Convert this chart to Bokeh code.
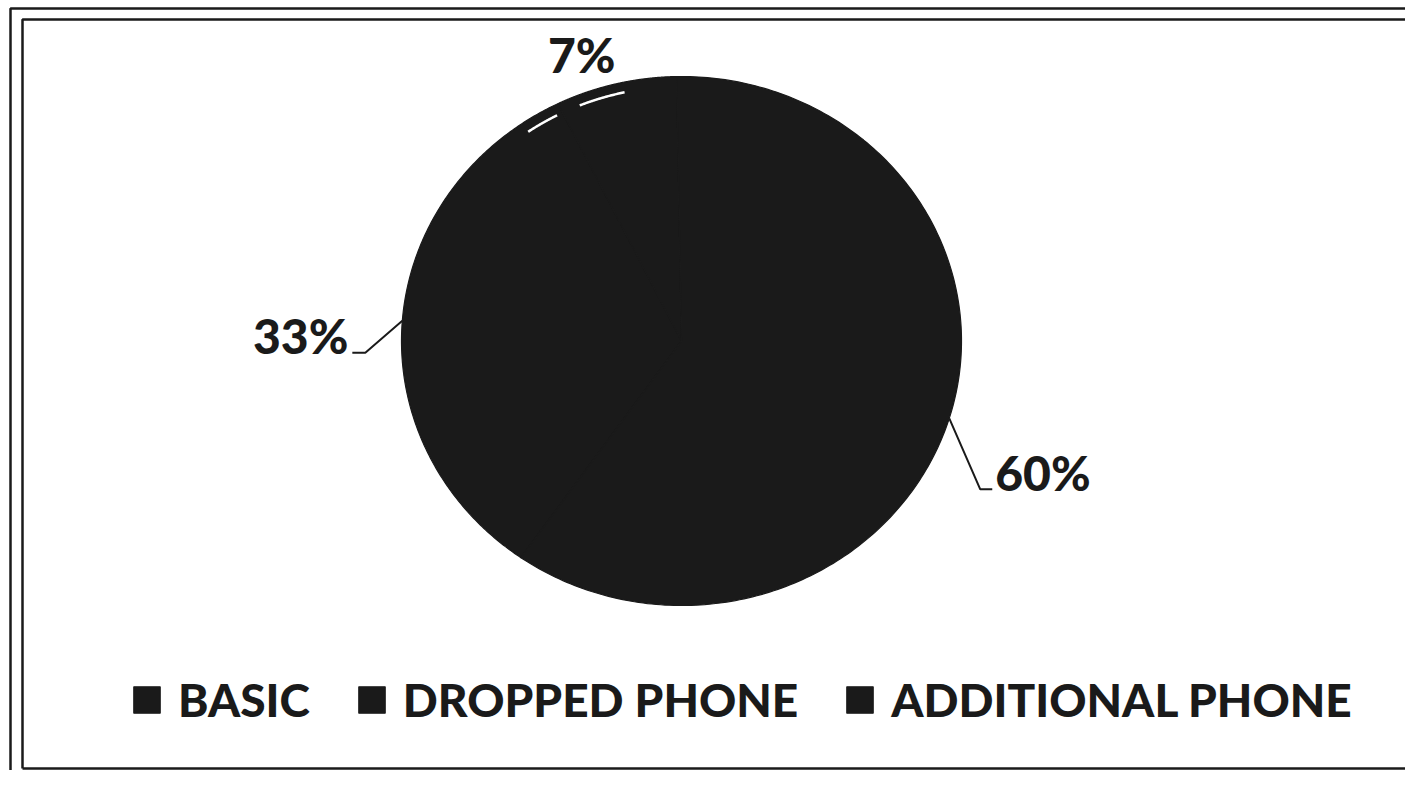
import numpy as np
from bokeh.plotting import figure
from bokeh.models import ColumnDataSource, Range1d, Legend, LegendItem
from bokeh.core.properties import value
from bokeh.embed import file_html
from bokeh.resources import INLINE

# ---------------- data ----------------
categories = ["BASIC", "DROPPED PHONE", "ADDITIONAL PHONE"]
shares = [33, 7, 60]
pct_labels = ["33%", "7%", "60%"]

# ---------------- layout / style ----------------
W, H = 1405, 770
CX, CY = 681, 340.5
RX, RY = 280, 264.5
FIRST_ANGLE = 215.0          # degrees, clockwise from 12 o'clock
PIE_COLOR = "#1a1a1a"
INK = "#1a1a1a"
FONT = "Lato Black"
LABEL_SIZE = "48px"
LEGEND_SIZE = "46px"

# label placement relative to each slice's rim point (pixels, y down)
label_text_offset = [(-54, 15), (-34, -29), (46, 54)]
label_align = ["right", "center", "left"]
leader_offsets = [[(0, 0), (-37, 32), (-50, 32)], None, [(0, 0), (31, 71), (43, 71)]]

p = figure(width=W, height=H, output_backend="svg", toolbar_location=None,
           x_range=Range1d(0, W), y_range=Range1d(H, 0),
           x_axis_type=None, y_axis_type=None, min_border=0,
           outline_line_color=None, background_fill_color="white",
           border_fill_color="white")
p.grid.visible = False

# frame rules (double border, open to the right)
p.multi_line([[10, 10, W + 50], [22, 22, W + 50], [22, W + 50]],
             [[H + 50, 8, 8], [768, 19, 19], [768, 768]],
             line_color=INK, line_width=2.5)

# ---------------- pie slices ----------------
total = float(sum(shares))
xs_list, ys_list, mids, bounds = [], [], [], []
a = FIRST_ANGLE
for s in shares:
    span = 360.0 * s / total
    th = np.radians(np.linspace(a, a + span, 240))
    xs_list.append(np.concatenate([[CX], CX + RX * np.sin(th)]).tolist())
    ys_list.append(np.concatenate([[CY], CY - RY * np.cos(th)]).tolist())
    mids.append(a + span / 2)
    bounds.append((a, a + span))
    a += span

src = ColumnDataSource(dict(xs=xs_list, ys=ys_list, cat=categories,
                            color=[PIE_COLOR] * len(categories)))
pie = p.patches("xs", "ys", source=src, fill_color="color",
                line_color="color", line_width=1.2)

# faint white sheen near the rim around the BASIC / DROPPED boundary
b = bounds[0][1]
sheen = []
for a0, a1 in [(b - 8.5, b - 1.3), (b + 4.0, b + 14.0)]:
    th = np.radians(np.linspace(a0, a1, 40))
    sheen.append((CX + 0.962 * RX * np.sin(th), CY - 0.962 * RY * np.cos(th)))
p.multi_line([s[0].tolist() for s in sheen], [s[1].tolist() for s in sheen],
             line_color="white", line_width=2.5)

# ---------------- data labels ----------------
for i, m in enumerate(mids):
    t = np.radians(m)
    rx0 = CX + RX * np.sin(t)
    ry0 = CY - RY * np.cos(t)
    if leader_offsets[i] is not None:
        p.line([rx0 + d[0] for d in leader_offsets[i]],
               [ry0 + d[1] for d in leader_offsets[i]],
               line_color=INK, line_width=2)
    p.text(x=[rx0 + label_text_offset[i][0]], y=[ry0 + label_text_offset[i][1]],
           text=[pct_labels[i]], text_align=label_align[i],
           text_baseline="alphabetic", text_color=INK,
           text_font=value(FONT), text_font_size=LABEL_SIZE,
           text_font_style="normal")

# ---------------- legend ----------------
items = [LegendItem(label=c, renderers=[pie], index=i) for i, c in enumerate(categories)]
legend = Legend(items=items, orientation="horizontal", location=(130, 43),
                glyph_width=33, glyph_height=33, label_standoff=15, spacing=45,
                padding=0, margin=0, border_line_color=None,
                background_fill_alpha=0,
                label_text_font=FONT, label_text_font_size=LEGEND_SIZE,
                label_text_font_style="normal", label_text_color=INK)
p.add_layout(legend)

open("out.html", "w").write(file_html(p, INLINE))
